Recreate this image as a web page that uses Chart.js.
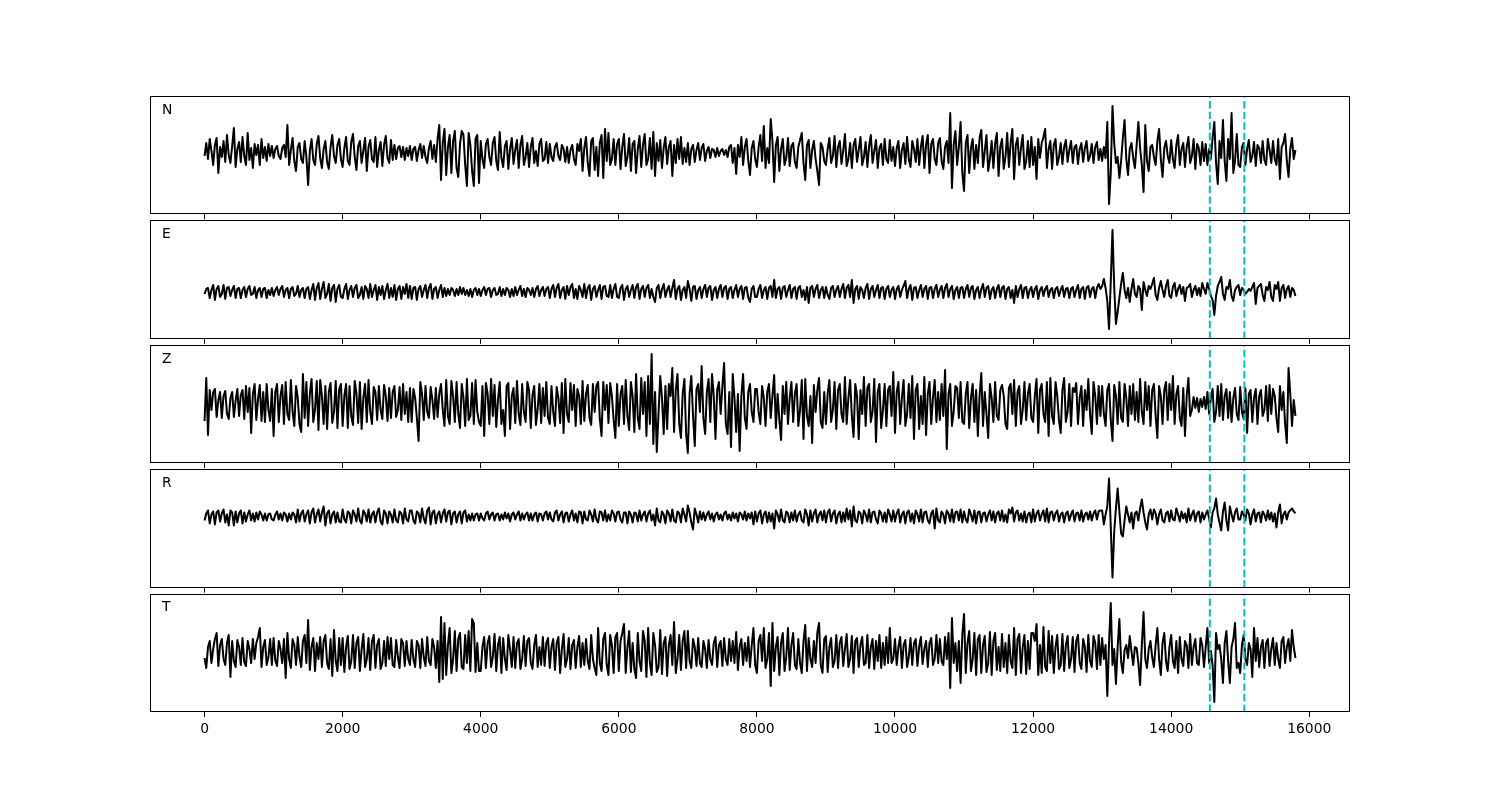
<!DOCTYPE html>
<html><head><meta charset="utf-8">
<script src="https://cdn.jsdelivr.net/npm/chart.js@4.4.1/dist/chart.umd.min.js"></script>
<style>
html,body{margin:0;padding:0;background:#fff;}
#wrap{position:relative;width:1500px;height:800px;overflow:hidden;background:#fff;}
canvas{position:absolute;left:0;}
</style></head><body><div id="wrap"></div>
<script>
// ---- data (arbitrary amplitude units) ----
const PANEL_LABELS = ['N', 'E', 'Z', 'R', 'T'];
const SAMPLE_STEP = 25;               // sample spacing along x
const X_TICKS = [0, 2000, 4000, 6000, 8000, 10000, 12000, 14000, 16000];
const PICK_TIMES = [14560, 15060];    // cyan dashed markers

const N_TRACE = [
-3,10,-6,14,2,-12,8,15,-20,6,-4,12,-9,18,-2,-10,7,25,-14,4,11,-9,16,-3,-12,20,-7,5,-15,9,-2,8,-12,14,-5,6,-8,9,-3,7,
-5,4,7,-3,-6,5,8,-4,28,-12,3,15,-8,-18,6,10,-6,-10,12,-4,-32,2,14,-7,-12,9,17,-5,-15,4,12,-9,-16,6,18,-3,-10,8,14,-6,
-14,5,16,-8,-12,11,19,-4,-17,7,12,-10,2,15,-18,6,13,-6,-9,16,-14,3,11,-13,8,17,-5,-10,13,-7,8,-6,5,7,-4,6,-7,5,-3,7,
-7,4,6,-8,3,9,-5,7,-4,-10,5,12,-6,8,-9,14,28,-27,10,24,-22,6,18,-20,12,22,-15,-24,9,22,18,-12,-33,20,8,-18,-33,14,18,-30,
12,-6,-15,9,14,-4,-12,10,16,-8,-17,21,-5,-14,7,12,-16,4,15,-11,3,13,-15,8,17,-12,-4,10,-14,6,15,-10,2,-13,9,14,-8,-6,11,-10,
9,-4,-8,6,10,-3,-7,8,4,-9,6,-10,3,8,-6,-12,9,2,14,-18,5,16,-10,-23,12,15,-17,6,-23,10,18,-25,24,-8,20,-12,-6,14,-12,9,
14,-16,6,19,-13,-4,15,-18,9,12,-20,4,17,-14,8,19,-12,-6,15,-16,21,-23,10,-8,13,-15,5,16,-11,6,12,-23,8,-10,14,-6,16,-11,5,-9,
10,-12,4,8,-9,3,10,-7,5,9,-8,2,6,-5,4,3,-4,5,-3,2,4,-2,3,-4,6,8,-10,5,-21,8,-4,16,-12,6,14,-8,-22,5,12,-6,
-14,6,18,-8,27,-15,5,-10,34,12,-29,8,16,-18,4,14,-12,-5,15,-13,7,10,-9,-15,6,13,20,-10,-27,8,13,-15,3,12,-6,-18,-32,10,6,-8,
-12,4,15,-10,-3,17,-14,6,12,-11,2,19,-13,-6,10,-15,8,14,-9,3,16,-12,-4,11,-14,7,18,-10,2,13,-15,5,9,-12,14,-6,-10,13,-8,6,
-13,5,12,-15,3,10,-11,16,-6,-14,12,4,-9,14,-12,6,17,-15,8,18,-20,9,14,-6,-12,10,15,-8,-16,6,12,-10,40,-35,8,22,-12,6,31,-20,
-38,10,18,-20,5,14,-16,8,-10,15,23,-14,2,18,-18,-6,12,-15,9,20,-23,6,14,-16,-4,20,-14,10,24,-26,8,15,-12,5,18,-16,-8,12,-14,16,
-12,6,-26,14,-5,10,16,24,-15,4,12,-16,8,14,-12,-4,10,-11,6,13,-9,3,12,-10,6,8,-11,4,10,-9,5,12,-8,-3,9,-10,6,11,-7,4,
-8,6,-5,31,-51,-20,47,10,-10,-4,-25,-8,15,33,-6,-22,4,10,-5,-15,8,31,5,-12,-39,28,-8,-18,6,8,-4,-12,12,24,-6,-24,5,12,-3,-10,
13,-6,-15,8,18,-12,4,10,-14,6,16,-10,-3,14,-16,9,5,-12,11,-8,9,-12,4,-6,15,31,-10,-31,12,-5,33,-8,-28,14,-6,40,-20,-8,19,-12,
-14,6,10,-12,4,13,-9,-3,11,-13,8,5,-10,12,-7,-12,14,3,-10,12,-6,-12,14,-26,6,10,19,-8,-24,4,15,-6,3
];
const E_TRACE = [
-2,3,4,-6,2,7,-8,3,6,-5,-2,7,-7,4,5,-4,2,6,-6,3,4,-6,2,5,-5,3,6,-3,-2,5,-6,2,4,-5,3,4,-6,2,-3,4,
-4,2,5,-3,3,6,-5,2,4,-6,3,5,-4,-2,6,-5,2,4,-6,3,5,-7,2,8,-8,4,9,-7,3,10,-6,-2,8,-9,4,7,-10,3,7,-5,
-6,3,8,-7,2,6,-5,4,7,-6,-3,5,-7,6,3,-6,8,-5,2,7,-8,5,-3,6,-7,2,8,-6,4,-5,7,-8,3,6,-7,5,-2,8,-6,6,
-7,4,5,-8,3,6,-5,2,7,-6,4,8,-7,3,5,-6,2,7,-5,4,-4,3,-3,4,2,-4,3,-3,5,-2,4,-3,2,-4,3,-5,2,4,-3,3,
-4,2,5,-3,3,4,-5,2,4,-3,-2,5,-4,3,-3,4,2,-5,3,-4,5,-3,2,6,-4,3,-5,4,2,-3,4,-5,3,6,-4,2,5,-4,3,5,
-6,3,7,-5,4,8,-6,2,5,-7,6,-3,5,8,-6,3,-7,6,2,-5,8,-6,4,7,-8,3,6,-5,2,7,-7,5,6,-4,-5,7,-6,3,8,-5,
-6,4,7,-8,3,6,-5,2,7,-6,5,8,-7,3,6,-5,4,7,-6,3,-5,-10,4,7,-6,3,8,-5,2,6,-5,4,12,-7,3,6,-8,2,5,-6,
11,3,-9,5,6,-7,2,5,-6,3,7,-5,4,6,-8,2,5,-6,3,7,-5,4,6,-7,3,5,-6,2,7,-5,3,6,-7,4,5,-6,-10,3,6,-5,
-5,3,7,-6,2,5,-7,4,6,-5,12,-6,3,5,-7,4,6,-5,2,7,-6,3,5,-7,4,6,-5,2,-8,5,-11,4,6,-5,3,7,-6,2,5,-6,
5,-3,-7,4,6,-5,2,6,-5,3,8,-6,4,7,-5,12,-11,3,6,-7,5,2,-6,4,8,-7,3,6,-5,2,7,-6,4,5,-7,3,6,-5,2,5,
-7,3,6,-5,2,6,11,-6,3,7,-8,4,5,-6,2,7,-5,3,6,-7,4,5,-6,3,7,-5,2,6,-6,4,8,-5,3,6,-7,2,5,-6,4,5,
-6,3,7,-5,4,6,-7,2,5,-6,3,8,-5,4,6,-7,2,5,-6,3,7,-5,4,6,-7,3,5,-6,2,-11,6,-5,3,7,-6,4,5,-6,2,5,
-5,3,6,-7,2,5,-4,3,6,-5,2,4,-6,3,5,-4,2,6,-5,3,4,-6,3,5,-5,2,7,-6,3,5,-7,4,6,-5,3,5,-6,4,8,3,
6,13,4,-9,-37,10,62,5,-32,-20,-6,8,19,2,-6,4,-10,3,13,-2,-5,6,3,-18,10,2,-4,6,3,8,14,-3,-8,4,11,2,-5,6,12,-4,
-6,5,9,-4,3,7,-2,5,-9,4,5,8,-5,2,6,-3,4,-4,9,3,-2,9,3,-4,-8,-23,-4,6,10,15,-2,-8,5,3,12,-4,-9,2,5,7,
-3,4,2,-2,0,3,1,5,9,-12,4,6,8,-3,-9,5,2,10,-5,-9,7,3,10,-9,4,7,-6,3,6,-5,4,2,-4
];
const Z_TRACE = [
-17,26,-31,14,-6,12,15,-13,4,12,-14,8,13,-10,-15,6,12,-13,3,15,-12,9,14,-15,18,-8,16,-29,10,20,-16,5,19,-17,12,-18,20,-6,-17,15,
-32,12,20,-18,8,19,-20,22,-10,-16,24,-8,-22,18,6,-20,-28,30,-14,22,-22,10,25,-18,-6,23,-26,24,8,-20,18,-25,12,21,-19,-8,23,-24,15,20,
-22,8,20,-24,18,-12,-21,23,10,-19,22,-25,6,20,-18,24,-8,-20,17,12,-16,18,-6,-15,19,8,-17,16,-14,12,18,-13,-6,17,-16,20,-10,12,-18,16,
-18,15,6,-14,-37,22,10,-16,18,-8,-14,17,4,-15,16,-13,10,20,-6,-22,24,-12,-20,23,8,-18,22,-10,-24,20,6,-22,25,-16,-12,21,-20,24,-8,-18,
-22,18,-32,21,10,-20,25,-12,19,-23,4,22,-20,-6,-32,18,21,-25,8,16,-19,23,-10,-21,20,-8,-18,22,14,-24,9,18,-21,-5,20,-19,16,-12,22,-14,
-20,18,-8,-22,17,6,-19,21,-29,25,-10,-18,21,-6,19,-22,15,8,-20,23,-17,10,19,-14,-21,20,-8,18,22,-15,-32,22,-6,19,-19,21,8,-16,-34,20,
-22,10,18,-20,24,-12,-26,22,8,-28,30,-14,-25,26,-10,22,-32,28,-20,50,-40,12,-48,-10,28,6,-30,18,-25,20,8,36,-28,14,30,-20,-34,10,25,-30,
-49,10,28,-12,-42,15,20,-8,38,-14,-30,12,25,-18,30,8,-35,14,22,-10,18,41,-20,-30,12,-43,30,6,-28,10,-47,8,30,-14,-25,12,20,-8,-18,15,
15,-8,-20,18,6,-22,12,20,-14,8,29,-24,10,-16,-36,18,-10,22,-20,6,22,-18,10,20,-22,-6,24,-35,25,-12,-22,8,-39,19,-8,14,26,-18,-24,12,
-20,10,24,-18,-6,22,-25,14,20,-10,-18,27,-20,6,24,-12,-33,20,8,-35,14,-10,27,-22,16,20,-18,-8,25,-38,12,20,-24,-6,20,-22,14,18,-12,32,
-29,12,22,-20,6,24,-22,-10,20,-14,28,-35,14,20,-25,8,-20,27,-31,10,22,-20,6,24,-18,12,-16,20,-12,34,-45,10,20,-22,-8,18,16,-14,22,-18,
-20,10,22,-24,6,20,-18,14,-32,8,31,-22,12,-10,-34,20,6,-18,22,-12,-16,14,19,8,-20,-25,16,20,-10,24,-22,12,18,-20,-6,22,-16,10,20,-14,
-18,8,25,-29,14,20,-10,-18,22,-32,26,-12,-20,22,8,-16,-29,14,26,-18,-8,20,-22,16,12,21,-20,6,18,-22,14,-6,25,-10,-30,22,8,-20,18,-12,
18,-10,-22,14,20,-16,-37,19,8,-20,22,-14,-18,20,6,-22,18,-10,20,-16,12,-18,25,-8,-20,22,-6,18,-22,14,20,-12,-34,18,8,-20,14,22,-16,20,
-6,28,-20,10,18,-14,-22,16,-32,8,26,-12,-6,7,-4,6,-8,5,-3,7,-5,12,-10,6,15,-18,-8,18,-12,20,-16,8,15,-14,12,-18,6,16,-10,-16,
17,-8,-15,16,-29,10,14,-18,6,15,-20,8,14,-12,-6,18,-17,19,-10,15,8,-14,-28,18,-6,12,-20,-39,36,10,-22,4,-12
];
const R_TRACE = [
-4,3,6,-7,2,5,-8,4,6,-5,3,7,-6,2,-9,6,4,-9,5,-6,3,6,-7,4,-5,2,6,-4,3,-5,4,-3,5,2,-4,3,-4,2,3,-3,
-4,2,5,-3,3,-4,4,2,-5,3,-3,4,2,-6,7,-5,3,6,-5,2,6,-7,4,8,-6,2,7,-5,4,10,-9,3,6,-7,2,5,-6,4,-5,-6,
7,-3,-6,5,3,-7,6,2,-5,8,-4,-7,6,3,-5,7,-6,2,5,-6,4,8,-5,-8,6,3,-7,5,2,-6,7,-4,-6,5,3,-7,8,-3,-5,6,
6,-4,-7,5,3,-6,8,-2,-7,6,9,-8,4,6,-7,2,5,-6,3,7,-5,4,6,-8,3,5,-6,2,5,-7,4,6,-5,2,-4,3,-4,2,3,-4,
3,-2,-4,3,5,-3,2,4,-4,2,3,-4,2,-3,4,-2,3,-5,2,4,-3,2,5,-4,3,-3,2,4,-4,3,-4,2,4,-5,3,2,-4,3,5,-3,
4,-3,-5,4,6,-4,2,5,-6,3,4,-5,2,6,-4,3,-6,5,4,-7,5,-3,-4,6,2,-5,7,-3,-6,5,4,-4,6,-5,2,-4,6,3,-5,4,
5,-3,-6,4,4,-7,5,2,-6,4,3,-5,6,-4,2,5,-5,3,6,-4,2,-9,8,-4,-6,5,2,-7,6,3,-5,7,-4,-6,5,3,-6,8,2,-5,
11,4,-6,-13,8,2,-6,5,-3,4,-4,2,5,-3,3,-5,2,4,-3,2,-4,3,5,-3,2,-4,4,-2,3,-5,4,2,-3,5,-4,3,-2,4,-8,5,
-5,3,6,-7,2,5,-6,4,-5,3,-12,6,2,-5,7,-4,-6,5,3,-6,4,-4,6,-5,2,5,-4,-6,7,2,-9,6,-5,3,7,-6,2,5,-4,6,
-6,4,7,-5,3,6,-7,2,5,-6,4,-5,8,-3,6,-10,10,-4,-6,5,3,-7,6,2,-5,7,-6,4,5,-3,-7,6,3,-5,4,-6,7,2,-5,6,
-5,3,7,-6,2,5,-7,4,6,-5,3,-7,6,2,-5,7,-6,4,5,-4,-7,3,6,-12,8,-4,-6,5,2,-7,6,3,-5,7,-6,4,5,-4,7,-6,
5,-3,-6,7,2,-5,6,-7,4,5,-6,3,4,-5,2,6,-4,5,-6,3,5,-4,6,-5,2,-6,7,3,9,-5,4,6,-4,3,-5,5,-6,2,4,-6,
7,-5,3,6,-4,2,6,-5,8,-6,4,5,-4,3,6,-5,2,4,-6,3,5,-4,2,6,-5,3,4,-4,6,-5,2,4,-3,5,-4,3,6,-3,5,6,
6,-8,2,10,38,-10,-61,-15,8,28,5,-17,-20,-4,10,2,-6,4,-12,3,5,-4,8,17,4,-6,-13,2,7,-3,7,3,-8,2,7,-4,-6,3,5,-5,
6,-3,-4,8,2,-5,5,-2,3,-6,8,-4,2,6,-5,3,5,-6,4,-3,2,6,-2,-11,4,8,18,2,-6,-14,5,14,-4,-14,10,2,-5,4,8,-3,
-3,5,2,-4,7,3,-8,2,7,-5,3,4,-6,5,2,-4,6,-3,4,-5,3,-11,4,12,-7,2,5,-3,4,6,8,5,3
];
const T_TRACE = [
-5,-15,6,12,-10,4,14,20,-13,8,14,-6,-12,10,18,-24,12,-8,-14,13,6,-12,15,-9,-13,12,4,-10,14,-6,10,16,25,-14,6,13,-12,-4,14,-12,
15,-8,-13,12,4,-10,14,-25,20,-6,-15,14,8,-12,16,-4,-14,12,18,-10,33,-17,6,15,-18,10,-6,16,-14,12,18,-10,-16,14,-23,23,-8,-18,15,-12,
15,-19,6,17,-16,-8,18,-15,10,16,-18,4,19,-14,-6,15,-17,12,18,-15,8,14,-16,-10,12,-13,16,-6,15,-12,-14,13,-4,-15,14,10,-13,12,-6,-12,
13,-6,-14,12,8,-15,14,-4,-13,16,-8,-12,14,6,-15,12,-29,36,-26,30,-22,8,25,-20,-6,22,-18,14,20,-14,-16,18,-10,22,-18,34,30,-19,10,-18,
-18,6,16,-15,10,17,-14,-4,19,-18,8,16,-20,15,-6,-17,18,4,-14,16,-15,10,14,-16,-6,17,-13,12,15,-10,-16,8,18,-14,6,-12,16,-13,10,15,
-15,6,14,-17,10,16,-20,4,19,-14,-6,15,-16,8,13,-15,6,17,-14,10,-12,14,-8,-16,18,-6,-15,-22,25,-10,-18,14,20,-12,-22,18,8,-20,16,20,
-18,12,20,29,-20,6,22,-19,10,-16,-25,20,-8,-18,22,12,-24,25,-10,-22,20,8,-19,-14,23,-21,10,16,-23,8,18,-12,31,-20,-6,18,-17,12,22,-15,
22,-8,-15,14,6,-13,15,-10,-14,12,4,-15,13,-6,-12,10,16,-14,8,12,-13,15,-6,-12,14,-8,12,-10,21,-17,6,14,-12,10,-8,16,-14,8,25,-12,
-20,12,18,-8,25,-15,-6,20,-33,30,-18,6,16,-22,10,20,-18,-4,25,-17,8,20,-12,-16,14,-10,-20,12,28,-18,15,-6,-14,12,-10,20,30,-12,-20,14,
17,-19,6,15,-14,-8,18,-15,10,16,-13,4,19,-14,-6,17,-20,12,15,-14,8,16,-12,-10,18,-15,6,14,-16,12,-8,18,-15,10,-12,16,-10,25,-10,-6,
14,-12,6,16,-15,8,13,-14,-4,15,-12,10,14,-13,6,16,-11,4,12,-14,10,15,-12,-6,18,-10,14,-8,-12,16,-6,20,-35,35,-10,10,-18,12,-30,18,
39,-20,10,22,-18,-6,20,-22,14,18,-20,8,17,-19,-10,21,-22,12,20,-17,6,-18,19,-14,10,-20,18,-8,-15,25,-22,14,19,-20,6,18,-21,12,-16,20,
20,12,29,-22,8,-20,26,-14,-18,22,-10,17,-20,6,18,-16,-12,19,-18,8,17,-15,-6,16,-19,12,18,-10,-16,14,6,-19,18,-8,-14,17,10,-16,18,-12,
15,-6,8,-43,10,50,-12,4,-31,6,34,-8,-20,3,8,-5,17,2,-12,6,5,-10,-32,8,41,-6,-15,4,12,-4,-14,8,25,-6,-22,10,20,-8,-18,6,
18,-8,-15,12,-20,16,-6,-13,12,8,-15,19,-12,6,14,-10,-12,15,8,-14,6,25,-10,2,-12,-49,20,4,8,-6,-30,10,22,-8,-30,6,14,30,-15,-10,
-20,8,18,-6,-12,10,4,-24,25,-8,15,-14,6,13,-15,10,14,-13,4,15,-12,10,-6,-15,12,16,-10,6,14,-8,23,6,-5
];
const TRACES = [N_TRACE, E_TRACE, Z_TRACE, R_TRACE, T_TRACE];
const Y_RANGES = [[-61.5, 57], [-46.9, 71.6], [-59.3, 59.2], [-71.2, 47.3], [-59, 59.5]];
const X_RANGE = [-790, 16590];

// ---- layout ----
const FIG = {left: 150, right: 1350, top: 96, bottom: 712, rows: 5, hspace: 0.05};
const PANEL_H = (FIG.bottom - FIG.top) / (FIG.rows + (FIG.rows - 1) * FIG.hspace);
const GAP = PANEL_H * FIG.hspace;

const framePlugin = {
  id: 'frame',
  afterDatasetsDraw(chart, args, opts) {
    const {ctx, chartArea: a} = chart;
    ctx.save();
    ctx.strokeStyle = '#000';
    ctx.lineWidth = 1;
    const l = Math.round(a.left) + 0.5, r = Math.round(a.right) - 0.5;
    const t = Math.round(a.top) + 0.5, b = Math.round(a.bottom) - 0.5;
    ctx.strokeRect(l, t, r - l, b - t);
    ctx.fillStyle = '#000';
    ctx.font = '13.9px "DejaVu Sans", sans-serif';
    ctx.textBaseline = 'alphabetic';
    ctx.textAlign = 'left';
    ctx.fillText(opts.label, a.left + 0.01 * (a.right - a.left), a.top + 0.15 * (a.bottom - a.top));
    ctx.restore();
  }
};

const wrap = document.getElementById('wrap');
TRACES.forEach((trace, i) => {
  const isLast = i === TRACES.length - 1;
  const top = FIG.top + i * (PANEL_H + GAP);
  const cTop = Math.floor(top) - 3;
  const padTop = top - cTop;
  const axisH = isLast ? 40 : 8;
  const cH = Math.ceil(padTop + PANEL_H + axisH) + 1;
  const padBottom = cH - axisH - padTop - PANEL_H;
  const cv = document.createElement('canvas');
  cv.width = 1500; cv.height = cH;
  cv.style.top = cTop + 'px';
  cv.style.width = '1500px'; cv.style.height = cH + 'px';
  wrap.appendChild(cv);

  const [ymin, ymax] = Y_RANGES[i];
  const traceData = trace.map((v, k) => ({x: k * SAMPLE_STEP, y: v}));
  const pickSets = PICK_TIMES.map(t => ({
    data: [{x: t, y: ymin}, {x: t, y: ymax}],
    borderColor: '#00bfbf', borderWidth: 2, borderDash: [7.4, 3.2],
    pointRadius: 0, fill: false, order: 0
  }));

  new Chart(cv, {
    type: 'line',
    data: {
      datasets: [
        ...pickSets,
        {data: traceData, borderColor: '#000', borderWidth: 2, pointRadius: 0,
         tension: 0, fill: false, borderJoinStyle: 'round', order: 1}
      ]
    },
    options: {
      responsive: false, animation: false, devicePixelRatio: 1, events: [],
      layout: {padding: {left: FIG.left, right: 1500 - FIG.right, top: padTop, bottom: padBottom}},
      plugins: {legend: {display: false}, tooltip: {enabled: false}, frame: {label: PANEL_LABELS[i]}},
      scales: {
        x: {
          type: 'linear', min: X_RANGE[0], max: X_RANGE[1],
          afterBuildTicks: s => { s.ticks = X_TICKS.map(v => ({value: v})); },
          ticks: {display: isLast, color: '#000', padding: 4, maxRotation: 0,
                  font: {family: '"DejaVu Sans", sans-serif', size: 13.9},
                  callback: v => String(v)},
          grid: {drawOnChartArea: false, drawTicks: true, tickLength: 5, color: '#000', lineWidth: 1},
          border: {display: false},
          afterFit: s => { s.height = axisH; }
        },
        y: {display: false, min: ymin, max: ymax}
      }
    },
    plugins: [framePlugin]
  });
});
</script></body></html>
